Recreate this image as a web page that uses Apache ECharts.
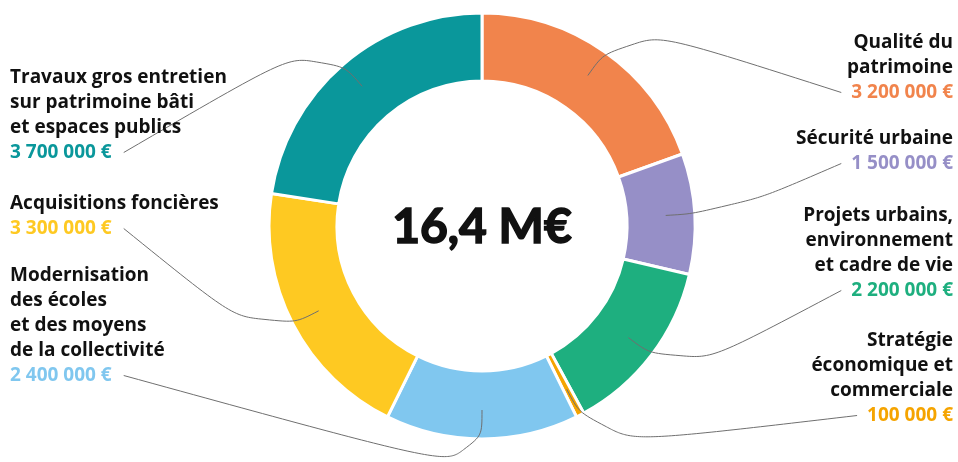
<!DOCTYPE html>
<html>
<head>
<meta charset="utf-8">
<title>Budget 16,4 M€</title>
<script src="https://cdn.jsdelivr.net/npm/echarts@6/dist/echarts.min.js"></script>
<style>
  html, body { margin: 0; padding: 0; background: #fff; }
  #main { width: 958px; height: 462px; }
</style>
</head>
<body>
<div id="main"></div>
<script>
// slices clockwise from 12 o'clock
const names = [
  'Qualité du\npatrimoine',
  'Sécurité urbaine',
  'Projets urbains,\nenvironnement\net cadre de vie',
  'Stratégie\néconomique et\ncommerciale',
  'Modernisation\ndes écoles\net des moyens\nde la collectivité',
  'Acquisitions foncières',
  'Travaux gros entretien\nsur patrimoine bâti\net espaces publics'
];
const values = [3200000, 1500000, 2200000, 100000, 2400000, 3300000, 3700000];
const colors = ['#F1844C', '#968FC7', '#1EAF7F', '#F5A400', '#80C7EF', '#FEC922', '#0A979B'];

// label placement (layout only)
const sides = ['right', 'right', 'right', 'right', 'left', 'left', 'left'];
const labelTops = [30, 126, 203, 328, 263, 191, 65];

const FONT = '"Open Sans"';
const FW = 'bold';
const FS = 19;
const LH = 25;
const CX = 482, CY = 226, R_IN = 145, R_OUT = 213;

const fmt = v => String(v).replace(/\B(?=(\d{3})+(?!\d))/g, ' ') + ' €';
const total = values.reduce((a, b) => a + b, 0);
const totalText = (total / 1e6).toFixed(1).replace('.', ',') + ' M€';

const ctx = document.createElement('canvas').getContext('2d');
ctx.font = FW + ' ' + FS + 'px ' + FONT;

// mid angle of each slice (clockwise from top, radians)
const midAngles = [];
let acc = 0;
values.forEach(v => {
  midAngles.push((acc + v / 2) / total * Math.PI * 2);
  acc += v;
});
const polar = (a, r) => [CX + Math.sin(a) * r, CY - Math.cos(a) * r];

const rich = {
  n: { fontFamily: FONT, fontWeight: FW, fontSize: FS, lineHeight: LH, color: '#111' }
};
colors.forEach((c, i) => {
  rich['v' + i] = { fontFamily: FONT, fontWeight: FW, fontSize: FS, lineHeight: LH, color: c };
});

const pieData = names.map((n, i) => ({
  name: n,
  value: values[i],
  itemStyle: { color: colors[i] }
}));

const chart = echarts.init(document.getElementById('main'));

chart.setOption({
  animation: false,
  graphic: [{
    type: 'text',
    x: CX,
    y: CY + 2,
    style: {
      text: totalText,
      fontFamily: 'Lato',
      fontWeight: 'bold',
      fontSize: 48,
      fill: '#111',
      stroke: '#111',
      lineWidth: 1.6,
      align: 'center',
      verticalAlign: 'middle'
    }
  }],
  series: [{
    // the ring
    type: 'pie',
    z: 2,
    center: [CX, CY],
    radius: [R_IN, R_OUT],
    startAngle: 90,
    clockwise: true,
    emphasis: { disabled: true },
    itemStyle: { borderColor: '#fff', borderWidth: 3 },
    label: { show: false },
    labelLine: { show: false },
    data: pieData
  }, {
    // same slices, invisible, carrying labels and leader lines on top
    type: 'pie',
    z: 3,
    silent: true,
    center: [CX, CY],
    radius: [R_IN, R_OUT],
    startAngle: 90,
    clockwise: true,
    avoidLabelOverlap: false,
    emphasis: { disabled: true },
    itemStyle: { color: 'rgba(0,0,0,0)', borderWidth: 0 },
    label: {
      show: true,
      position: 'outside',
      width: 270,
      overflow: 'none',
      formatter: p => '{n|' + names[p.dataIndex] + '}\n{v' + p.dataIndex + '|' + fmt(values[p.dataIndex]) + '}',
      rich: rich
    },
    labelLine: {
      show: true,
      smooth: 0.6,
      length: 10,
      length2: 10,
      lineStyle: { color: '#6f6f6f', width: 1 }
    },
    labelLayout: function (params) {
      const i = params.dataIndex;
      const right = sides[i] === 'right';
      const nLines = names[i].split('\n').length + 1;
      const vy = labelTops[i] + (nLines - 1) * LH + LH / 2;
      const vw = ctx.measureText(fmt(values[i])).width;
      const ex = right ? 953 - vw - 10 : 10 + vw + 12;
      const a = midAngles[i];
      const p0 = polar(a, 184);
      const p1 = polar(a, 248);
      return {
        x: right ? 953 : 10,
        y: labelTops[i],
        align: right ? 'right' : 'left',
        verticalAlign: 'top',
        labelLinePoints: [p0, p1, [ex, vy]]
      };
    },
    data: names.map((n, i) => ({ name: n, value: values[i] }))
  }]
});
</script>
</body>
</html>
